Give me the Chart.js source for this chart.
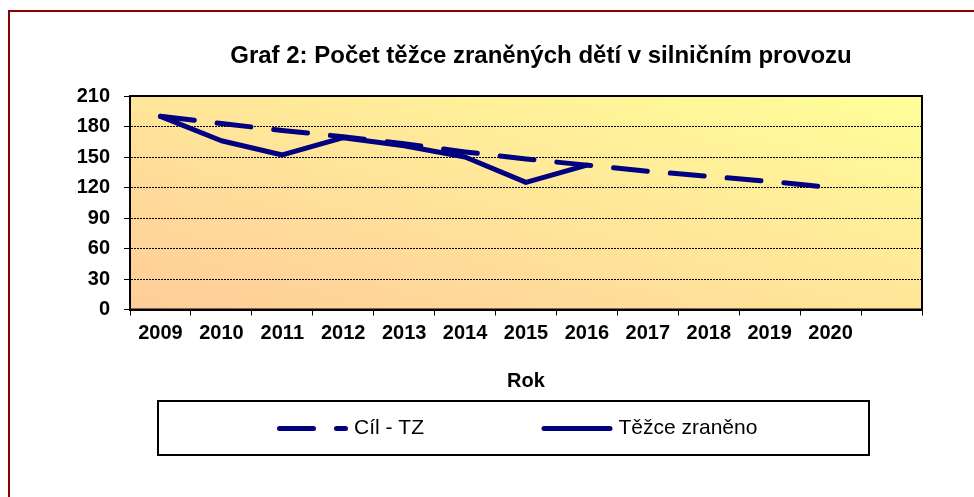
<!DOCTYPE html>
<html lang="cs">
<head>
<meta charset="utf-8">
<title>Graf 2</title>
<script src="https://cdn.jsdelivr.net/npm/chart.js@4.4.1/dist/chart.umd.min.js"></script>
<style>
  html, body { margin: 0; padding: 0; background: #fff; overflow: hidden; }
  #wrap { position: relative; width: 974px; height: 497px; }
</style>
</head>
<body>
<div id="wrap"><canvas id="graf"></canvas></div>
<script>
// data
const years = ['2009', '2010', '2011', '2012', '2013', '2014', '2015', '2016', '2017', '2018', '2019', '2020', ''];
const cilTZ = [190, 183, 176, 170, 163, 155, 148, 142, 136, 131, 126, 120, null];
const tezceZraneno = [190, 166, 152, 169, 161, 150, 125, 142, null, null, null, null, null];
const yTicks = [0, 30, 60, 90, 120, 150, 180, 210];

const titleText = 'Graf 2: Počet těžce zraněných dětí v silničním provozu';
const axisTitle = 'Rok';

const NAVY = '#000080';
const FONT = '"Liberation Sans", Arial, sans-serif';

Chart.defaults.font.family = FONT;
Chart.defaults.color = '#000';

const frame = {
    id: 'frame',
    beforeDraw(chart) {
        const {ctx, chartArea: a, width, height} = chart;
        ctx.save();
        ctx.fillStyle = '#fff';
        ctx.fillRect(0, 0, width, height);

        // diagonal gradient, orange bottom left -> yellow top right
        const w = a.right - a.left, h = a.bottom - a.top;
        const len = Math.hypot(w, h);
        const nx = h / len, ny = -w / len;
        const half = w * h / len;
        const cx = (a.left + a.right) / 2, cy = (a.top + a.bottom) / 2;
        const g = ctx.createLinearGradient(cx - nx * half, cy - ny * half, cx + nx * half, cy + ny * half);
        g.addColorStop(0, '#FFCC99');
        g.addColorStop(1, '#FFFF99');
        ctx.fillStyle = g;
        ctx.fillRect(a.left, a.top, w, h);
        ctx.restore();
    },
    beforeDatasetsDraw(chart) {
        const {ctx, chartArea: a} = chart;
        ctx.save();
        ctx.lineWidth = 2;
        ctx.strokeStyle = '#000';
        ctx.strokeRect(a.left, a.top, a.right - a.left, a.bottom - a.top);
        ctx.restore();
    },
    afterDraw(chart) {
        const ctx = chart.ctx;
        ctx.save();

        // outer frame (runs off the right and bottom edge)
        ctx.lineWidth = 2;
        ctx.strokeStyle = '#8B0000';
        ctx.strokeRect(9, 11, 1200, 1000);

        // title
        ctx.fillStyle = '#000';
        ctx.font = 'bold 24px ' + FONT;
        ctx.textAlign = 'center';
        ctx.textBaseline = 'alphabetic';
        ctx.fillText(titleText, 541, 63);

        // legend box
        ctx.lineWidth = 2;
        ctx.strokeStyle = '#000';
        ctx.strokeRect(158, 401, 711, 54);

        const legendX = [279.5, 544];
        chart.data.datasets.forEach(function (ds, i) {
            const x = legendX[i], y = 428.5;
            ctx.beginPath();
            ctx.setLineDash(ds.borderDash || []);
            ctx.lineCap = 'round';
            ctx.lineWidth = ds.borderWidth;
            ctx.strokeStyle = ds.borderColor;
            ctx.moveTo(x, y);
            ctx.lineTo(x + 66, y);
            ctx.stroke();
            ctx.setLineDash([]);
            ctx.fillStyle = '#000';
            ctx.font = '21px ' + FONT;
            ctx.textAlign = 'left';
            ctx.textBaseline = 'middle';
            ctx.fillText(ds.label, x + 74.5, y);
        });
        ctx.restore();
    }
};

new Chart(document.getElementById('graf'), {
    type: 'line',
    data: {
        labels: years,
        datasets: [
            {
                label: 'Cíl - TZ',
                data: cilTZ,
                borderColor: NAVY,
                borderWidth: 5,
                borderDash: [34, 23],
                borderCapStyle: 'round',
                borderJoinStyle: 'round',
                pointRadius: 0,
                tension: 0,
                fill: false,
            },
            {
                label: 'Těžce zraněno',
                data: tezceZraneno,
                borderColor: NAVY,
                borderWidth: 5,
                borderCapStyle: 'round',
                borderJoinStyle: 'round',
                pointRadius: 0,
                tension: 0,
                fill: false,
            }
        ]
    },
    options: {
        responsive: true,
        maintainAspectRatio: false,
        animation: false,
        layout: {
            padding: {left: 10, right: 52, top: 96, bottom: 104}
        },
        plugins: {
            legend: {display: false},
            title: {display: false},
            tooltip: {enabled: false},
        },
        scales: {
            x: {
                offset: true,
                grid: {
                    offset: true,
                    drawOnChartArea: false,
                    drawTicks: true,
                    tickLength: 6,
                    color: '#000',
                    lineWidth: 1,
                },
                border: {color: '#000', width: 2},
                ticks: {
                    autoSkip: false,
                    maxRotation: 0,
                    padding: 5.5,
                    font: {size: 20, weight: 'bold'},
                },
                title: {
                    display: true,
                    text: axisTitle,
                    font: {size: 20, weight: 'bold'},
                    padding: {top: 18.5, bottom: 0},
                },
            },
            y: {
                min: 0,
                max: 210,
                afterBuildTicks: function (scale) {
                    scale.ticks = yTicks.map(v => ({value: v}));
                },
                afterFit: function (scale) {
                    scale.width = 120;
                },
                grid: {
                    color: '#000',
                    lineWidth: 1,
                    tickLength: 6,
                },
                border: {color: '#000', width: 2, dash: [2, 1]},
                ticks: {
                    padding: 14,
                    font: {size: 20, weight: 'bold'},
                },
            }
        }
    },
    plugins: [frame]
});
</script>
</body>
</html>
